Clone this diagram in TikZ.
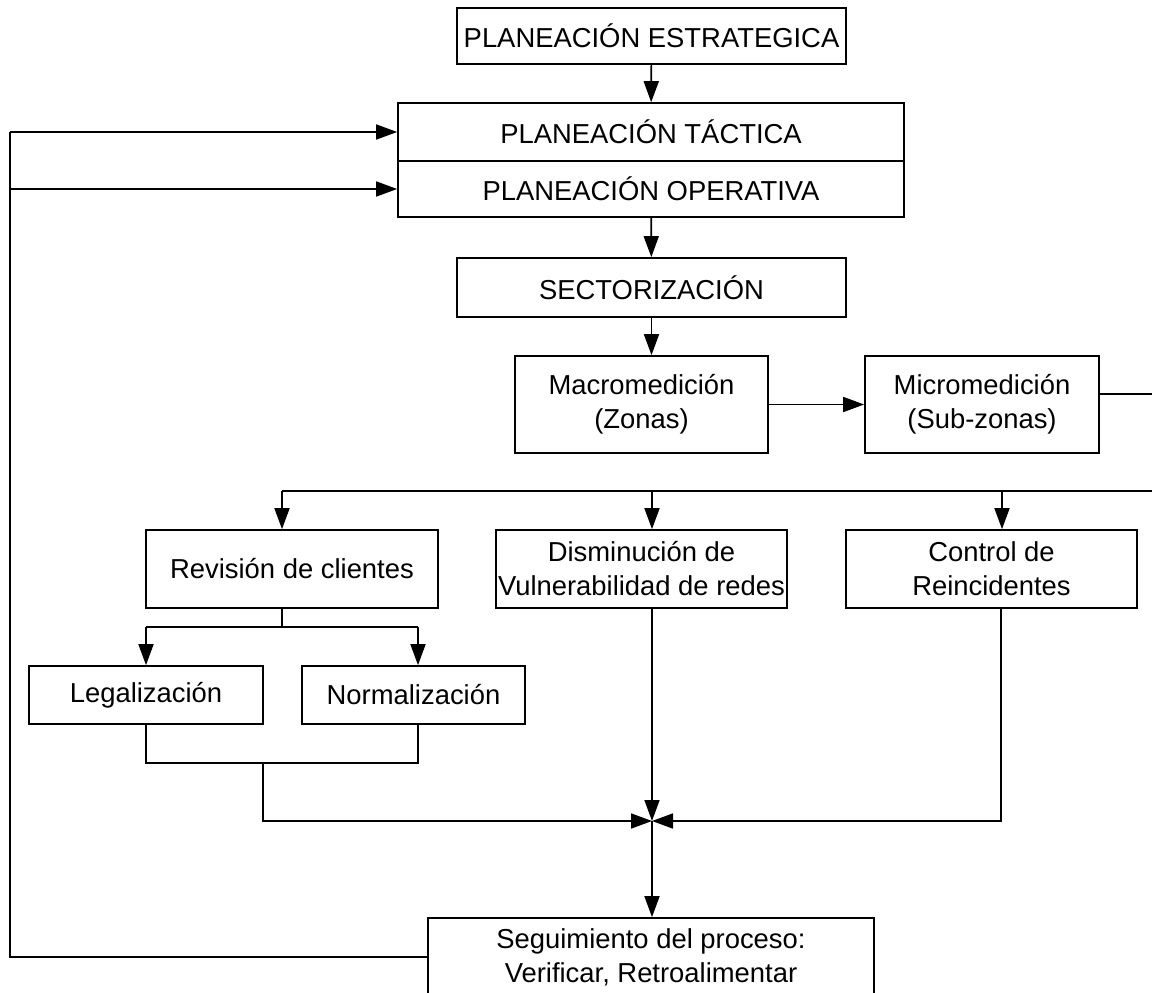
\documentclass[tikz,border=0pt]{standalone}
\usepackage{fontspec}
\setmainfont{Liberation Sans}
\usetikzlibrary{arrows.meta}
\begin{document}
\begin{tikzpicture}[x=1pt,y=-1pt,
  box/.style={draw, line width=1.7pt, inner sep=0pt, align=center, font=\fontsize{27.4}{34}\selectfont},
  line/.style={line width=1.7pt},
  arr/.style={line, -{Triangle[length=21pt,width=15pt]}}]
\clip (0,0) rectangle (1152,993);
% boxes
\node[box, minimum width=389pt, minimum height=56pt] (E) at (651.5,36) {PLANEACIÓN ESTRATEGICA};
\node[box, minimum width=506pt, minimum height=58pt] (T) at (651,132) {PLANEACIÓN TÁCTICA};
\node[box, minimum width=506pt, minimum height=56pt] (O) at (651,189) {PLANEACIÓN OPERATIVA};
\node[box, minimum width=389pt, minimum height=59pt] (S) at (651.5,287.5) {SECTORIZACIÓN};
\node[box, minimum width=253pt, minimum height=97pt] (Macro) at (641.5,404.5) {Macromedición\\(Zonas)};
\node[box, minimum width=234pt, minimum height=97pt] (Micro) at (982,404.5) {Micromedición\\(Sub-zonas)};
\node[box, minimum width=292pt, minimum height=78pt] (Rev) at (292,569) {Revisión de clientes};
\node[box, minimum width=291pt, minimum height=78pt] (Dism) at (641.5,569) {Disminución de\\Vulnerabilidad de redes};
\node[box, minimum width=291pt, minimum height=78pt] (Ctrl) at (991.5,569) {Control de\\Reincidentes};
\node[box, minimum width=234pt, minimum height=58pt] (Legal) at (146,695) {Legalización};
\node[box, minimum width=223pt, minimum height=58pt] (Normal) at (413.5,695) {Normalización};
\node[box, minimum width=446pt, minimum height=78pt] (Seg) at (651,957) {Seguimiento del proceso:\\Verificar, Retroalimentar};
% junction coordinates
\coordinate (M) at (652,821);
\coordinate (Rr) at (1160,394);
\coordinate (Rd) at (1160,491);
\coordinate (Dl) at (282,491);
\coordinate (Dm) at (652,491);
\coordinate (Dc) at (1002,491);
\coordinate (Rb) at (282,627);
\coordinate (Lj) at (146,627);
\coordinate (Nj) at (418,627);
\coordinate (Lb) at (146,763);
\coordinate (Nb) at (418,763);
\coordinate (Jb) at (263,763);
\coordinate (Cb) at (1001,821);
\coordinate (Fb) at (10,957);
\coordinate (Ft) at (10,132);
\coordinate (Fo) at (10,189);
% connectors
\draw[arr] (E) -- (T);
\draw[arr] (O) -- (S);
\draw[arr] (S.south) -- (S.south |- Macro.north);
\draw[arr] (Macro.east) -- (Micro.west);
\draw[line] (Micro.east |- Rr) -- (Rr) -- (Rd) -- (Dl);
\draw[arr] (Dl) -- (Dl |- Rev.north);
\draw[arr] (Dm) -- (Dm |- Dism.north);
\draw[arr] (Dc) -- (Dc |- Ctrl.north);
\draw[line] (Rb |- Rev.south) -- (Rb);
\draw[line] (Lj) -- (Nj);
\draw[arr] (Lj) -- (Lj |- Legal.north);
\draw[arr] (Nj) -- (Nj |- Normal.north);
\draw[line] (Legal.south) -- (Lb) -- (Nb) -- (Nb |- Normal.south);
\draw[arr] (Jb) -- (Jb |- M) -- (M);
\draw[arr] (Dm |- Dism.south) -- (M);
\draw[arr] (Cb |- Ctrl.south) -- (Cb) -- (M);
\draw[arr] (M) -- (M |- Seg.north);
\draw[line] (Seg.west) -- (Fb) -- (Ft);
\draw[arr] (Ft) -- (Ft -| T.west);
\draw[arr] (Fo) -- (Fo -| O.west);
\end{tikzpicture}
\end{document}
